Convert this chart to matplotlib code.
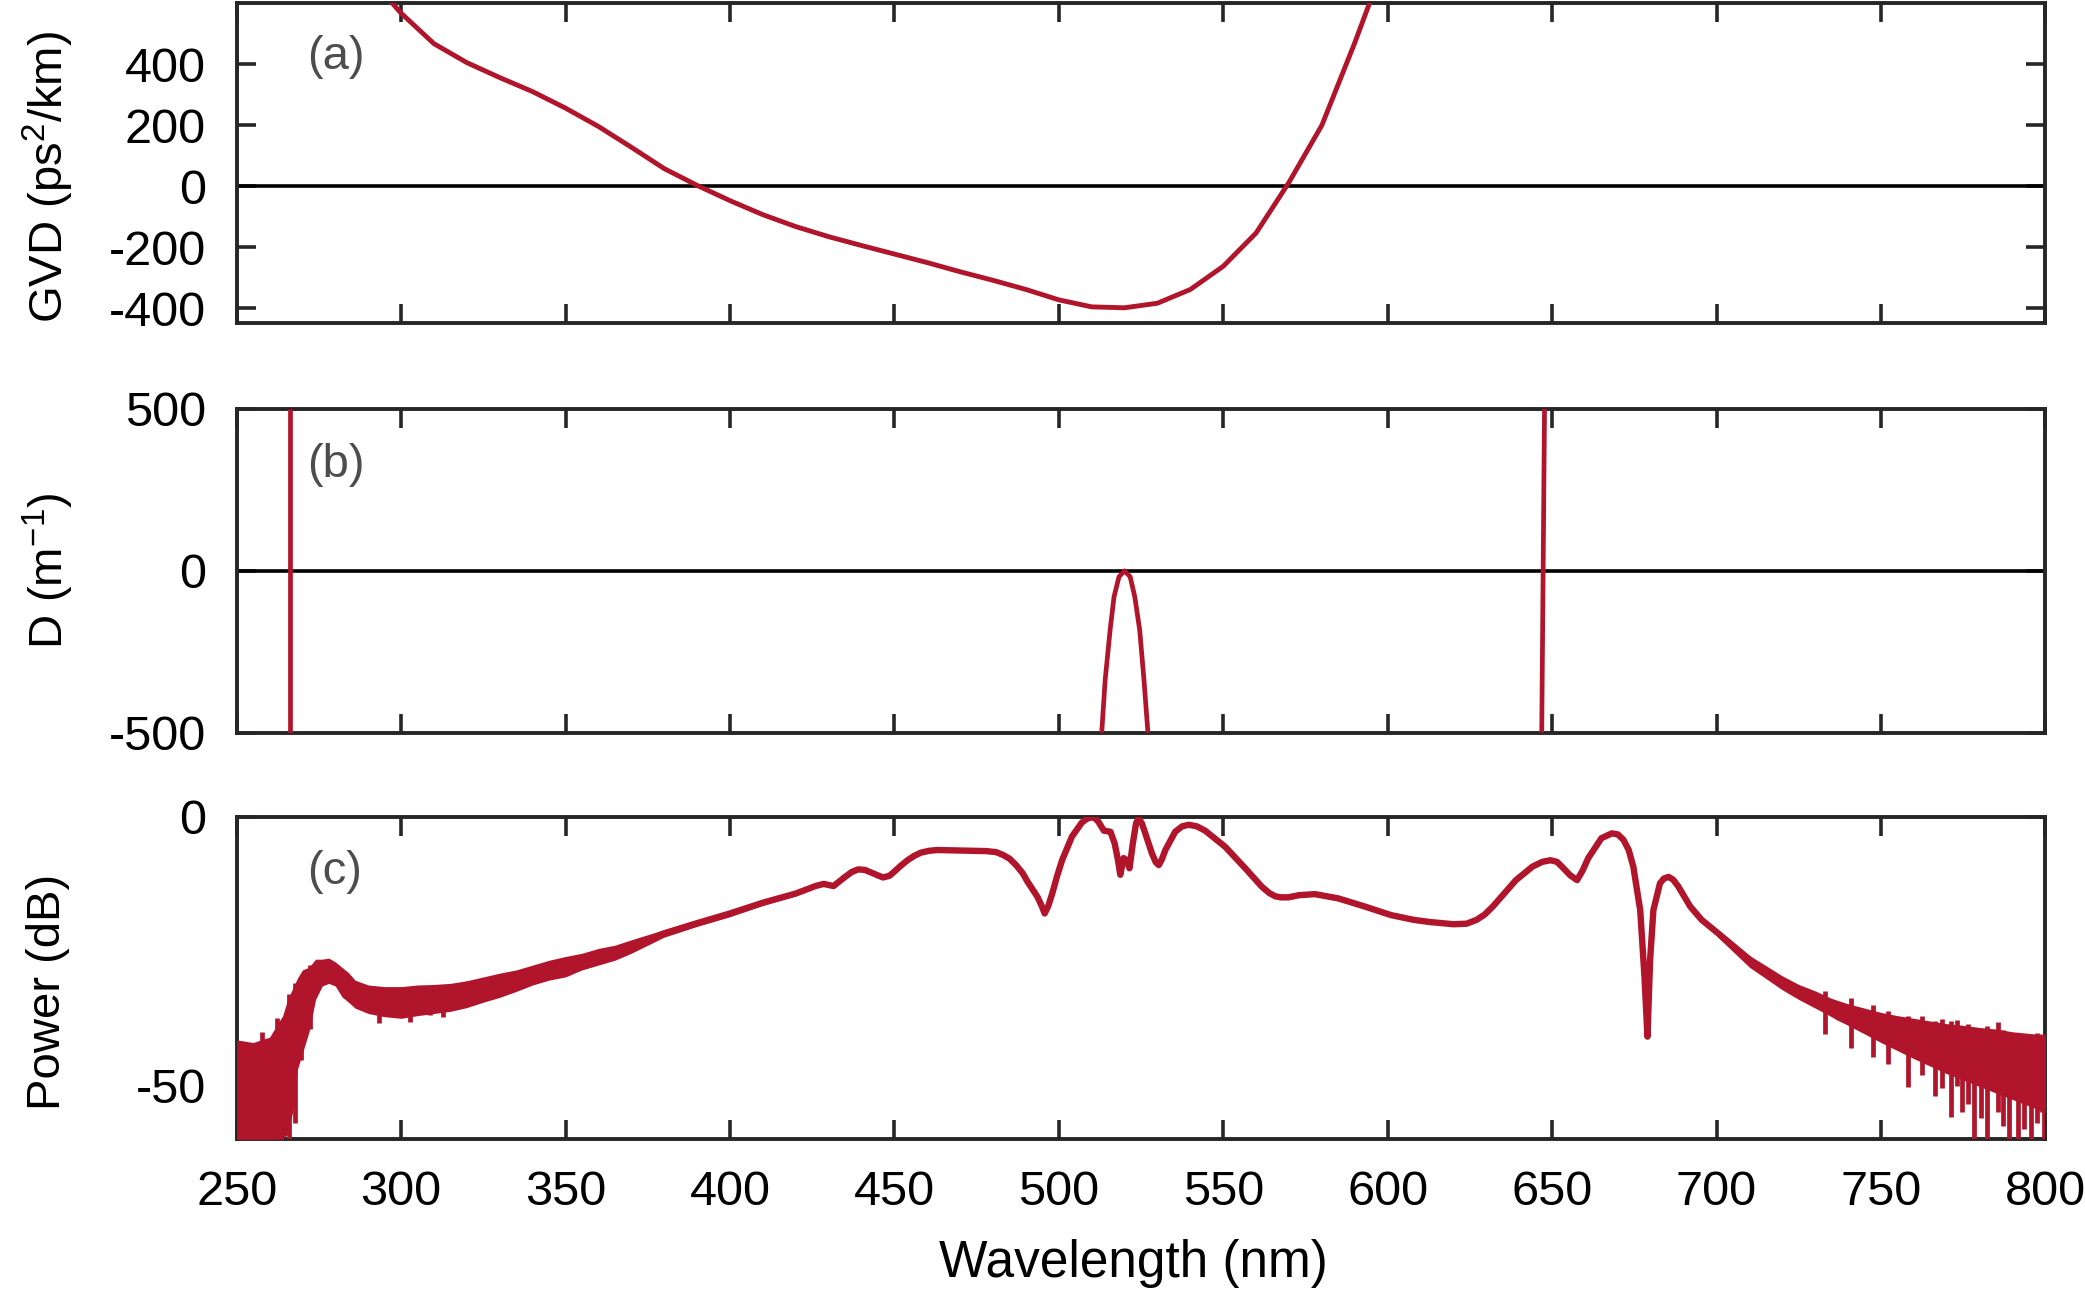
import matplotlib
matplotlib.use("Agg")
import matplotlib.pyplot as plt
import numpy as np

plt.rcParams['font.family'] = ['Liberation Sans', 'DejaVu Sans']
plt.rcParams['mathtext.fontset'] = 'custom'
plt.rcParams['mathtext.rm'] = 'Liberation Sans'
plt.rcParams['mathtext.it'] = 'Liberation Sans:italic'

RED = '#B0152B'
SPINE = '#262626'

# ---------------- data: panel (a) GVD ----------------
wl_gvd = [290, 300, 310, 320, 330, 340, 350, 360, 370, 380, 390, 400, 410, 420, 430,
          440, 450, 460, 470, 480, 490, 500, 510, 520, 530, 540, 550, 560, 570, 580,
          590, 600]
gvd = [690, 567, 467, 405, 356, 310, 256, 196, 128, 58, 3, -47, -93, -132, -165,
       -194, -222, -250, -280, -308, -338, -372, -395, -398, -383, -338, -262, -153, 13, 200,
       470, 760]

# ---------------- data: panel (b) D ----------------
wl_d_left = [266.3, 266.3]
d_left = [-500, 500]
wl_d_mid = [513.05, 514.1, 515.6, 516.8, 518.3, 520.0, 521.7, 523.1, 524.6, 525.9, 527.1]
d_mid = [-500, -337, -183, -80, -18.5, 0, -18.5, -80, -183, -337, -500]
wl_d_right = [646.85, 647.7]
d_right = [-500, 500]

# ---------------- data: panel (c) power spectrum ----------------
wl_p = [250, 258, 264, 268, 272, 276, 278, 282, 286, 290, 295, 300, 305, 310, 315, 320,
        325, 330, 335, 340, 345, 350, 355, 360, 365, 370, 380, 390, 400, 410, 420, 426,
        428.5, 431.5, 435, 437, 439, 441, 443, 446.5, 448.5, 450, 452, 454, 456, 458, 460.5,
        463, 471, 478, 481, 483, 485, 487, 489, 490.5, 492, 493.5, 494.8, 495.7, 496.8,
        498, 499.5, 501, 504, 507, 508.5, 510, 511, 512, 513.7, 515.7, 517, 518, 518.7,
        519.7, 520.7, 521.5, 522.5, 523.5, 524.3, 525.3, 526.3, 528.3, 529.5, 530.4, 531.3,
        532.4, 535.4, 537.5, 539.5, 542, 544.5, 550.6, 556.7, 561.7, 564, 565.8, 567.5,
        569.8, 573, 577.9, 585, 593, 601, 608, 613, 620, 624, 627, 629.5, 632, 639, 644,
        647, 649.5, 651.5, 653, 655.5, 657.6, 659.3, 661, 665, 668.2, 670, 671.7, 673.3,
        674.7, 676.8, 678.1, 679, 679.8, 680.8, 682.8, 684, 685.4, 686.8, 688.4, 692,
        695.5, 700.5, 706.6, 712.6, 719.7, 726.8, 731, 737, 745, 755, 765, 775, 785, 800]
p_db = [-51, -51, -45, -38, -33, -29, -28.5, -30.5, -32.5, -34, -34.5, -34.5, -34.3, -34,
        -33.5, -33, -32.2, -31.3, -30.5, -29.5, -28.6, -27.9, -27, -26, -25.3, -24.2,
        -21.7, -19.8, -18, -16, -14.3, -12.9, -12.5, -12.9, -11.2, -10.3, -9.8, -9.9,
        -10.4, -11.3, -11.0, -10.2, -9.1, -8.1, -7.3, -6.7, -6.35, -6.2, -6.3, -6.4, -6.6,
        -7.1, -7.8, -9, -10.5, -12.1, -13.5, -14.9, -16.6, -18, -16.6, -14.3, -11.0,
        -8.1, -3.7, -1.1, -0.4, -0.1, -0.3, -0.9, -2.6, -2.8, -5, -8.1, -10.8, -7.7, -8.1,
        -9.6, -5, -1.2, -0.3, -1.3, -3.1, -6.8, -8.5, -9, -8.0, -6.2, -2.8, -1.8, -1.5,
        -1.8, -2.6, -5.6, -9.6, -13, -14.2, -14.8, -15.0, -15, -14.6, -14.4, -15.2, -16.7,
        -18.3, -19.2, -19.6, -20, -19.9, -19.2, -18.2, -16.7, -11.8, -9.3, -8.4, -8.1,
        -8.4, -9.3, -10.9, -11.8, -10.0, -7.7, -4, -3.1, -3.3, -4.3, -6.2, -9.3, -17.4,
        -29.8, -40.9, -26.7, -17.4, -12.4, -11.5, -11.2, -11.7, -13, -16.7, -19.2, -21.7,
        -24.8, -27.9, -31, -33.5, -34.7, -37.3, -39.5, -41.5, -43.5, -45, -46, -47]

# noise envelope, short-wavelength side
wl_env_l = [250, 255, 260, 262, 264, 265.5, 267, 268.5, 270, 272, 274, 276, 278, 280,
            282, 284, 286, 290, 295, 300, 305, 310, 315, 320, 325, 330, 335, 340, 345,
            350, 355, 360, 365, 370, 380, 390, 400, 410, 420]
env_hi_l = [-41.5, -42, -41, -39, -37, -34, -32, -30, -28.5, -28, -26.5, -26.5, -26.3,
            -27, -28, -29, -30.4, -31.3, -31.6, -31.6, -31.3, -31.2, -31, -30.5, -29.8,
            -29.1, -28.5, -27.6, -26.7, -26, -25.4, -24.5, -23.9, -22.9, -21, -19.2,
            -17.4, -15.5, -13.9]
env_lo_l = [-60, -60, -60, -60, -60, -59, -55, -47, -44, -40, -34, -31.5, -31, -31.5,
            -33.5, -34.5, -35.6, -36.6, -37.2, -37.5, -37, -36.6, -36.2, -35.5, -34.5,
            -33.6, -32.5, -31.3, -30.4, -29.8, -28.5, -27.6, -26.7, -25.4, -22.4, -20.4,
            -18.6, -16.5, -14.7]

# noise envelope, long-wavelength side
wl_env_r = [700, 710, 720, 725, 730, 735, 740, 745, 750, 755, 760, 765, 770, 775, 780,
            785, 790, 795, 800]
env_hi_r = [-21.2, -25.8, -29.6, -31.2, -32.4, -33.8, -34.8, -35.6, -36.4, -37, -37.5,
            -38, -38.5, -38.8, -39.2, -39.5, -40, -40.3, -40.6]
env_lo_r = [-22.2, -28, -32.2, -34, -35.6, -37.2, -38.8, -40.4, -42, -43.5, -45, -46.4,
            -47.8, -49, -50.2, -51.4, -52.6, -53.8, -55]

# individual noise spikes (wavelength, low, high)
spike_wl = [257.7, 262.2, 265.8, 267.6, 269.7, 272.2, 293.4, 302.6, 308.7, 312.8,
            733.0, 741.0, 747.5, 752.0, 758.1, 762.4, 766.4, 768.5, 771.4, 773.0, 774.6,
            776.5, 778.3, 780.5, 782.3, 785.6, 787.2, 789.0, 791.6, 793.6, 795.6, 797.5,
            799.0, 799.6]
spike_lo = [-60, -60, -60, -57, -45.3, -39.4, -38.4, -38.1, -36.9, -37.2,
            -40.5, -43.0, -44.7, -46.0, -50.2, -48, -52, -50.5, -55.8, -50, -54.9,
            -53.5, -60, -56, -60, -55, -57.5, -60, -60, -58, -60, -57, -55, -60]
spike_hi = [-40, -37.5, -32.9, -31, -30, -27.5, -34, -34, -33, -33,
            -32.5, -33.8, -35.1, -36.2, -37, -37, -38, -37.6, -38, -37.9, -39,
            -38.6, -40, -39.4, -39, -38.2, -39.6, -40, -41, -40.7, -41, -40.2, -40.4, -41]

xticks = [250, 300, 350, 400, 450, 500, 550, 600, 650, 700, 750, 800]
yticks_a = [-400, -200, 0, 200, 400]
yticks_b = [-500, 0, 500]
yticks_c = [-50, 0]

# ---------------- figure ----------------
fig = plt.figure(figsize=(20.85, 12.91), dpi=100)
L, W = 0.1135, 0.8675
ax_a = fig.add_axes([L, 0.7500, W, 0.2476])
ax_b = fig.add_axes([L, 0.4325, W, 0.2507])
ax_c = fig.add_axes([L, 0.1175, W, 0.2499])

TICK_FS = 35
LAB_FS = 34

for ax in (ax_a, ax_b, ax_c):
    ax.set_xlim(250, 800)
    ax.set_xticks(xticks)
    for s in ax.spines.values():
        s.set_linewidth(2.8)
        s.set_color(SPINE)
    ax.tick_params(direction='in', length=14, width=2.6, color=SPINE,
                   top=True, right=True, labelsize=TICK_FS, pad=22)

# (a)
ax_a.plot(wl_gvd, gvd, color=RED, lw=3.5, zorder=3)
ax_a.axhline(0, color='black', lw=2.6, zorder=2)
ax_a.set_ylim(-447, 600)
ax_a.set_yticks(yticks_a)
ax_a.set_yticklabels([str(v) for v in yticks_a])
ax_a.tick_params(labelbottom=False)
ax_a.set_ylabel(r'GVD (ps$^{\mathregular{2}}$/km)', fontsize=LAB_FS)
ax_a.yaxis.set_label_coords(-0.1043, 0.4575)
ax_a.yaxis.label.set_va('center')
ax_a.text(0.039, 0.83, '(a)', transform=ax_a.transAxes, fontsize=LAB_FS,
          color='#4d4d4d', va='center', ha='left')

# (b)
for wl, dd in ((wl_d_left, d_left), (wl_d_mid, d_mid), (wl_d_right, d_right)):
    ax_b.plot(wl, dd, color=RED, lw=3.4, zorder=3, solid_capstyle='butt')
ax_b.axhline(0, color='black', lw=2.6, zorder=2)
ax_b.set_ylim(-500, 500)
ax_b.set_yticks(yticks_b)
ax_b.set_yticklabels([str(v) for v in yticks_b])
ax_b.tick_params(labelbottom=False)
ax_b.set_ylabel(r'D (m$^{\mathregular{-1}}$)', fontsize=LAB_FS)
ax_b.yaxis.set_label_coords(-0.1043, 0.5)
ax_b.yaxis.label.set_va('center')
ax_b.text(0.039, 0.826, '(b)', transform=ax_b.transAxes, fontsize=LAB_FS,
          color='#4d4d4d', va='center', ha='left')

# (c)
ax_c.fill_between(wl_env_l, env_lo_l, env_hi_l, color=RED, lw=0, zorder=3)
ax_c.fill_between(wl_env_r, env_lo_r, env_hi_r, color=RED, lw=0, zorder=3)
ax_c.vlines(spike_wl, spike_lo, spike_hi, color=RED, lw=3.4, zorder=3)
ax_c.plot(wl_p, p_db, color=RED, lw=4.6, zorder=4, solid_joinstyle='round')
ax_c.set_ylim(-60, 0)
ax_c.set_yticks(yticks_c)
ax_c.set_yticklabels([str(v) for v in yticks_c])
ax_c.set_xticklabels([str(v) for v in xticks])
ax_c.set_ylabel('Power (dB)', fontsize=LAB_FS)
ax_c.yaxis.set_label_coords(-0.1043, 0.4575)
ax_c.yaxis.label.set_va('center')
ax_c.set_xlabel('Wavelength (nm)', fontsize=37)
ax_c.xaxis.set_label_coords(0.496, -0.426)
ax_c.xaxis.label.set_va('baseline')
ax_c.text(0.039, 0.83, '(c)', transform=ax_c.transAxes, fontsize=LAB_FS,
          color='#4d4d4d', va='center', ha='left')

fig.savefig('out.png', dpi=100)
